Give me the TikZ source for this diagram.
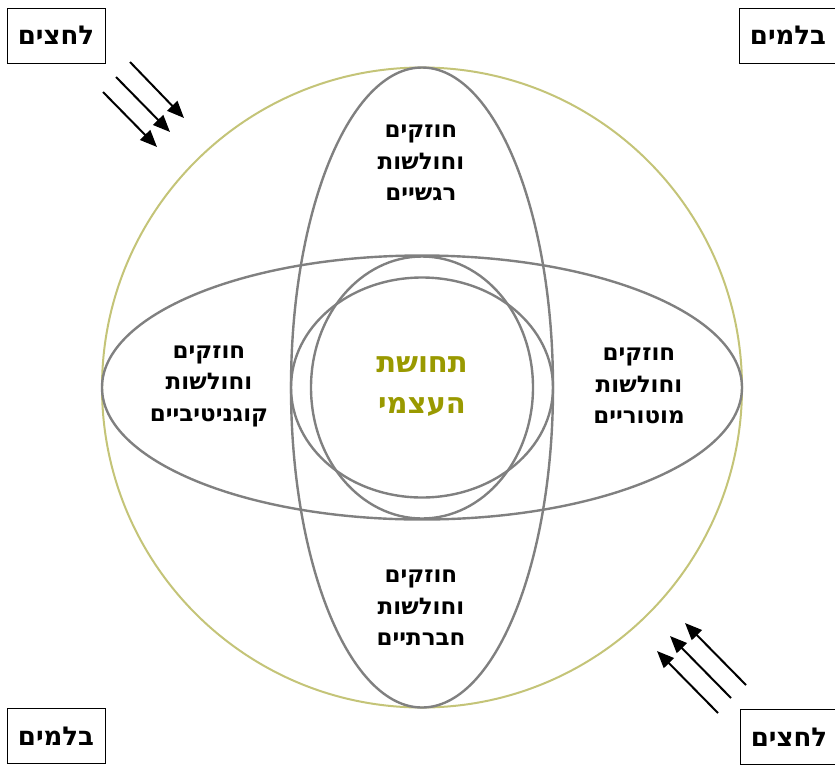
\documentclass[tikz,border=0pt]{standalone}
\usepackage{fontspec}
\usetikzlibrary{arrows.meta}
\TeXXeTstate=1
\newfontfamily\hebfont[Script=Hebrew]{DejaVu Sans Bold}
\definecolor{ringcol}{RGB}{196,196,120}
\definecolor{ellcol}{RGB}{128,128,128}
\definecolor{selfcol}{RGB}{153,153,0}
\tikzset{
  ring/.style={draw=ringcol, line width=2pt},
  ell/.style={draw=ellcol, line width=2.4pt},
  label/.style={align=center, font={\hebfont\fontsize{23}{31.5}\selectfont}, inner sep=0pt},
  selflabel/.style={align=center, text=selfcol, font={\hebfont\fontsize{29}{41}\selectfont}, inner sep=0pt},
  cornerbox/.style={draw=black, line width=1pt, minimum width=98pt, minimum height=55pt, inner sep=0pt, font={\hebfont\fontsize{26}{28}\selectfont}},
  force/.style={line width=2pt, -{Triangle[length=17pt,width=14pt]}}
}
\begin{document}
\begin{tikzpicture}[x=1pt,y=-1pt]
\useasboundingbox (0,0) rectangle (835,764);
\coordinate (c) at (422,387.5);
% outer circle
\draw[ring] (c) circle [radius=320];
% big ellipses
\draw[ell] (c) ellipse [x radius=131, y radius=320];
\draw[ell] (c) ellipse [x radius=320, y radius=132];
% inner ellipses
\draw[ell] (c) ellipse [x radius=111, y radius=131];
\draw[ell] (c) ellipse [x radius=131, y radius=110];
% labels
\node[label] (top) at (421,163) {\beginR חוזקים\endR\\\beginR וחולשות\endR\\\beginR רגשיים\endR};
\node[label] (left) at (209,386) {\beginR חוזקים\endR\\\beginR וחולשות\endR\\\beginR קוגניטיביים\endR};
\node[label] (right) at (639,386) {\beginR חוזקים\endR\\\beginR וחולשות\endR\\\beginR מוטוריים\endR};
\node[label] (bottom) at (421,608) {\beginR חוזקים\endR\\\beginR וחולשות\endR\\\beginR חברתיים\endR};
\node[selflabel] (self) at (422,387) {\beginR תחושת\endR\\\beginR העצמי\endR};
% corner boxes
\node[cornerbox] (tl) at (56,35.5) {\beginR לחצים\endR};
\node[cornerbox] (tr) at (788,35.5) {\beginR בלמים\endR};
\node[cornerbox] (bl) at (56,736) {\beginR בלמים\endR};
\node[cornerbox] (br) at (789,737) {\beginR לחצים\endR};
% arrows top-left
\coordinate (a1s) at (130,62); \coordinate (a1e) at (184,118);
\coordinate (a2s) at (116,77); \coordinate (a2e) at (170,132);
\coordinate (a3s) at (103,92); \coordinate (a3e) at (157,147);
\draw[force] (a1s) -- (a1e);
\draw[force] (a2s) -- (a2e);
\draw[force] (a3s) -- (a3e);
% arrows bottom-right
\coordinate (b1s) at (746,685); \coordinate (b1e) at (685,623);
\coordinate (b2s) at (731,698); \coordinate (b2e) at (670,636);
\coordinate (b3s) at (718,713); \coordinate (b3e) at (657,651);
\draw[force] (b1s) -- (b1e);
\draw[force] (b2s) -- (b2e);
\draw[force] (b3s) -- (b3e);
\end{tikzpicture}
\end{document}
